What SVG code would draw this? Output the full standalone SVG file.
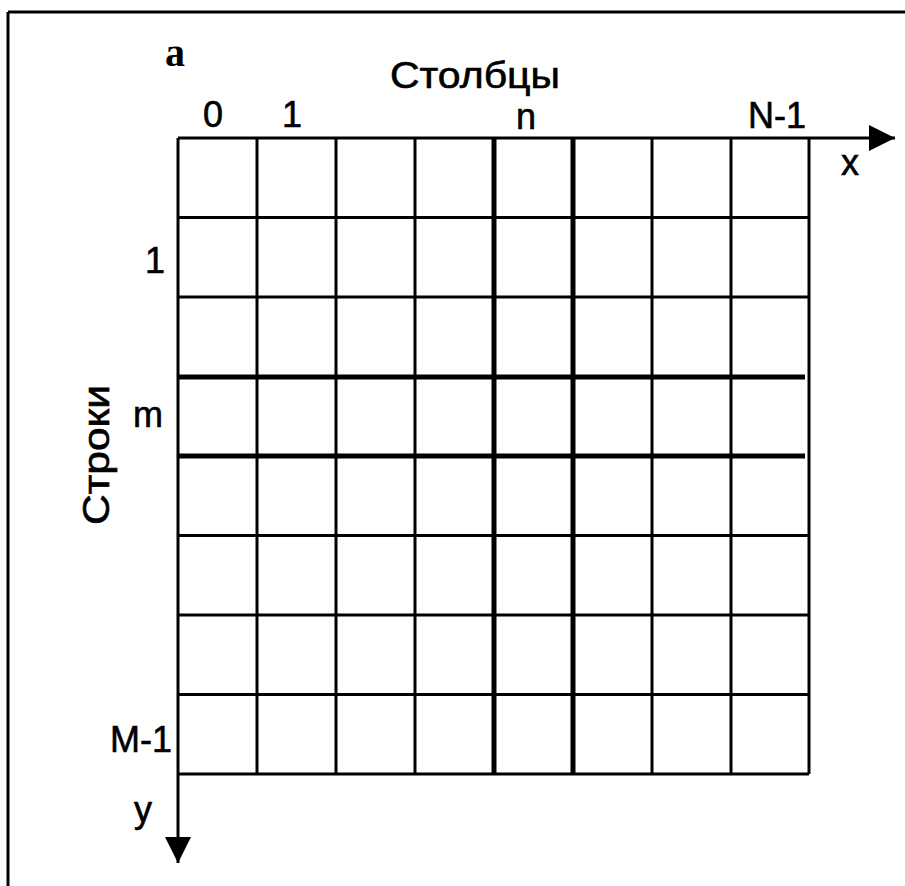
<svg xmlns="http://www.w3.org/2000/svg" width="905" height="886" viewBox="0 0 905 886">
<style>
.t{font-family:"Liberation Sans",Arial,sans-serif;font-size:36px;fill:#000;stroke:#000;stroke-width:0.6}
.g{stroke:#000;stroke-width:3;fill:none}
.k{stroke:#000;stroke-width:5;fill:none}
</style>
<defs>
<marker id="ah" viewBox="0 0 10 10" refX="10" refY="5" markerWidth="26" markerHeight="26" markerUnits="userSpaceOnUse" orient="auto">
<path d="M0,0 L10,5 L0,10 Z" fill="#000"/>
</marker>
</defs>
<rect width="905" height="886" fill="#fff"/>
<g id="frame">
<line x1="8" y1="12" x2="905" y2="12" stroke="#000" stroke-width="3"/>
<line x1="8" y1="12" x2="8" y2="886" stroke="#000" stroke-width="3"/>
</g>
<g id="grid">
<line class="g" x1="257" y1="138" x2="257" y2="774"/>
<line class="g" x1="336" y1="138" x2="336" y2="774"/>
<line class="g" x1="415" y1="138" x2="415" y2="774"/>
<line class="k" x1="494" y1="138" x2="494" y2="774"/>
<line class="k" x1="573" y1="138" x2="573" y2="774"/>
<line class="g" x1="652" y1="138" x2="652" y2="774"/>
<line class="g" x1="731" y1="138" x2="731" y2="774"/>
<line class="g" x1="809" y1="138" x2="809" y2="774"/>
<line class="g" x1="178" y1="217.5" x2="809" y2="217.5"/>
<line class="g" x1="178" y1="297" x2="809" y2="297"/>
<line class="k" x1="178" y1="377" x2="805" y2="377"/>
<line class="k" x1="178" y1="456" x2="805" y2="456"/>
<line class="g" x1="178" y1="535.5" x2="809" y2="535.5"/>
<line class="g" x1="178" y1="615" x2="809" y2="615"/>
<line class="g" x1="178" y1="694.5" x2="809" y2="694.5"/>
<line class="g" x1="178" y1="774" x2="809" y2="774"/>
</g>
<g id="axes">
<line x1="178" y1="138" x2="895" y2="138" stroke="#000" stroke-width="3" marker-end="url(#ah)"/>
<line x1="178" y1="138" x2="178" y2="863" stroke="#000" stroke-width="3" marker-end="url(#ah)"/>
</g>
<g id="labels">
<text x="165" y="66" style="font-family:'Liberation Serif','Times New Roman',serif;font-weight:bold;font-size:40px">a</text>
<text class="t" x="475" y="88" text-anchor="middle" textLength="170" lengthAdjust="spacingAndGlyphs">Столбцы</text>
<text class="t" x="213" y="127" text-anchor="middle">0</text>
<text class="t" x="292" y="127" text-anchor="middle">1</text>
<text class="t" x="526" y="129" text-anchor="middle">n</text>
<text class="t" x="777" y="128" text-anchor="middle">N-1</text>
<text class="t" x="850" y="175" text-anchor="middle">x</text>
<text class="t" x="155" y="273" text-anchor="middle">1</text>
<text class="t" x="148" y="427" text-anchor="middle">m</text>
<text class="t" x="141" y="752" text-anchor="middle">M-1</text>
<text class="t" x="143" y="822" text-anchor="middle">y</text>
<text class="t" transform="translate(109,455) rotate(-90)" text-anchor="middle" textLength="140" lengthAdjust="spacingAndGlyphs">Строки</text>
</g>
</svg>
